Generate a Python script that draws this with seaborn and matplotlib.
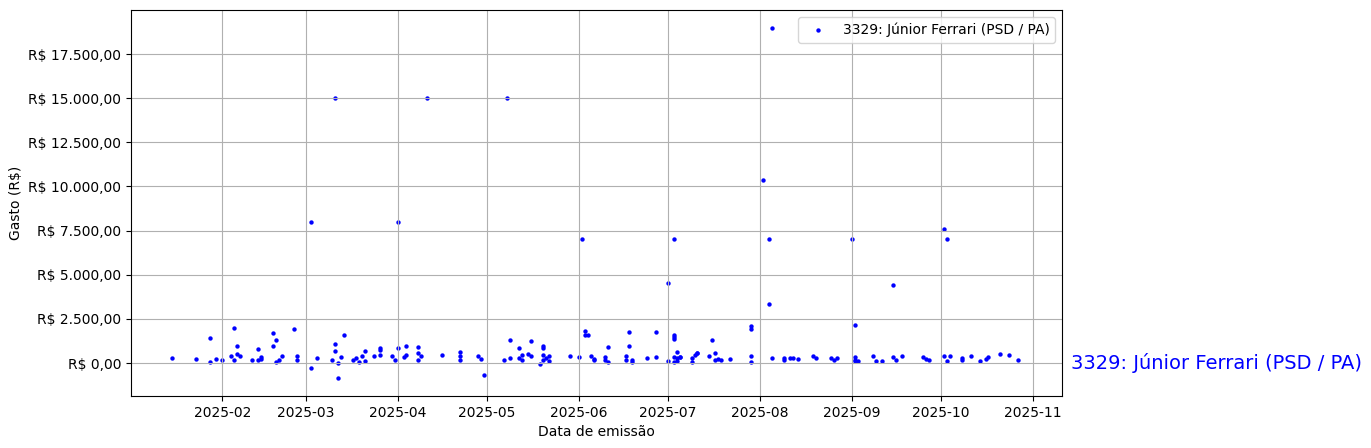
import pandas as pd
import matplotlib.pyplot as plt
import matplotlib.dates as mdates
import matplotlib.transforms as mtransforms
from matplotlib.ticker import FuncFormatter
import seaborn as sns

label = "3329: Júnior Ferrari (PSD / PA)"

# Data (date of issue, amount in R$)
dates = [
    "2025-01-15", "2025-01-23", "2025-01-28", "2025-01-28", "2025-01-30", "2025-02-01",
    "2025-02-05", "2025-02-04", "2025-02-05", "2025-02-06", "2025-02-06", "2025-02-07",
    "2025-02-11", "2025-02-13", "2025-02-13", "2025-02-14", "2025-02-14", "2025-02-18",
    "2025-02-19", "2025-02-18", "2025-02-19", "2025-02-20", "2025-02-21", "2025-02-25",
    "2025-02-26", "2025-02-26", "2025-03-03", "2025-03-03", "2025-03-05", "2025-03-10",
    "2025-03-11", "2025-03-11", "2025-03-11", "2025-03-12", "2025-03-12", "2025-03-13",
    "2025-03-14", "2025-03-17", "2025-03-18", "2025-03-19", "2025-03-20", "2025-03-21",
    "2025-03-21", "2025-03-24", "2025-03-26", "2025-03-26", "2025-03-26", "2025-03-30",
    "2025-03-31", "2025-04-01", "2025-04-01", "2025-04-03", "2025-04-04", "2025-04-04",
    "2025-04-08", "2025-04-08", "2025-04-08", "2025-04-09", "2025-04-11", "2025-04-16",
    "2025-04-22", "2025-04-22", "2025-04-22", "2025-04-28", "2025-04-29", "2025-04-30",
    "2025-05-07", "2025-05-08", "2025-05-09", "2025-05-09", "2025-05-12", "2025-05-12",
    "2025-05-13", "2025-05-13", "2025-05-15", "2025-05-16", "2025-05-16", "2025-05-20",
    "2025-05-20", "2025-05-20", "2025-05-20", "2025-05-19", "2025-05-21", "2025-05-22",
    "2025-05-22", "2025-05-29", "2025-06-01", "2025-06-02", "2025-06-03", "2025-06-03",
    "2025-06-04", "2025-06-05", "2025-06-06", "2025-06-06", "2025-06-10", "2025-06-10",
    "2025-06-11", "2025-06-11", "2025-06-17", "2025-06-17", "2025-06-18", "2025-06-18",
    "2025-06-19", "2025-06-19", "2025-06-24", "2025-06-27", "2025-06-27", "2025-07-01",
    "2025-07-01", "2025-07-03", "2025-07-03", "2025-07-03", "2025-07-03", "2025-07-03",
    "2025-07-03", "2025-07-04", "2025-07-04", "2025-07-04", "2025-07-05", "2025-07-05",
    "2025-07-09", "2025-07-09", "2025-07-10", "2025-07-11", "2025-07-11", "2025-07-15",
    "2025-07-16", "2025-07-17", "2025-07-17", "2025-07-18", "2025-07-19", "2025-07-22",
    "2025-07-29", "2025-07-29", "2025-07-29", "2025-07-29", "2025-08-02", "2025-08-04",
    "2025-08-04", "2025-08-05", "2025-08-05", "2025-08-09", "2025-08-09", "2025-08-11",
    "2025-08-12", "2025-08-14", "2025-08-19", "2025-08-20", "2025-08-25", "2025-08-26",
    "2025-08-27", "2025-09-01", "2025-09-02", "2025-09-02", "2025-09-02", "2025-09-02",
    "2025-09-03", "2025-09-08", "2025-09-09", "2025-09-11", "2025-09-15", "2025-09-15",
    "2025-09-16", "2025-09-18", "2025-09-25", "2025-09-26", "2025-09-27", "2025-10-02",
    "2025-10-03", "2025-10-02", "2025-10-03", "2025-10-04", "2025-10-08", "2025-10-08",
    "2025-10-11", "2025-10-14", "2025-10-16", "2025-10-17", "2025-10-21", "2025-10-24",
    "2025-10-27",
]
values = [
    267, 210, 1400, 40, 210, 150,
    1970, 380, 150, 950, 490, 380,
    150, 780, 150, 210, 320, 1690,
    1290, 950, 40, 150, 380, 1910,
    380, 150, 8000, -300, 267, 150,
    15000, 1060, 660, -20, -870, 320,
    1590, 150, 267, 40, 380, 660,
    100, 380, 830, 720, 440, 380,
    150, 8000, 830, 320, 950, 440,
    890, 550, 150, 380, 15000, 440,
    380, 150, 610, 380, 210, -700,
    150, 15000, 267, 1290, 267, 830,
    150, 440, 490, 380, 1230, 950,
    830, 440, 150, -70, 267, 380,
    100, 380, 320, 7000, 1800, 1570,
    1570, 380, 150, 210, 320, 150,
    890, 40, 380, 150, 1740, 950,
    40, 150, 267, 320, 1740, 100,
    4560, 1570, 1460, 1350, 320, 40,
    7000, 610, 100, 267, 320, 320,
    267, 40, 440, 550, 550, 380,
    1290, 150, 550, 210, 150, 210,
    2090, 1930, 380, 40, 10340, 3330,
    7000, 19000, 267, 267, 150, 267,
    267, 210, 380, 267, 267, 150,
    267, 7000, 2140, 320, 150, 100,
    100, 380, 100, 100, 4430, 320,
    150, 380, 320, 210, 150, 7600,
    7000, 380, 100, 380, 267, 150,
    380, 100, 210, 320, 490, 440,
    150,
]

df = pd.DataFrame({"Data de emissão": pd.to_datetime(dates), "Gasto (R$)": values})


def brl(v, pos):
    s = f"{v:,.2f}".replace(",", "X").replace(".", ",").replace("X", ".")
    return f"R$ {s}"


fig = plt.figure(figsize=(13.71, 4.48), dpi=100)
ax = fig.add_axes([0.0956, 0.1161, 0.6790, 0.8616])
sns.scatterplot(data=df, x="Data de emissão", y="Gasto (R$)", color="blue",
                s=10, linewidth=0, label=label, ax=ax)

ax.set_xlim(pd.Timestamp("2025-01-01 06:00"), pd.Timestamp("2025-11-10 18:00"))
ax.xaxis.set_major_locator(mdates.MonthLocator())
ax.xaxis.set_major_formatter(mdates.DateFormatter("%Y-%m"))
ax.set_yticks([0, 2500, 5000, 7500, 10000, 12500, 15000, 17500])
ax.yaxis.set_major_formatter(FuncFormatter(brl))
ax.set_xlabel("Data de emissão")
ax.set_ylabel("Gasto (R$)")
ax.grid(True)
ax.legend(loc="upper right")

trans = mtransforms.blended_transform_factory(ax.transAxes, ax.transData)
ax.text(1.01, 0, label, color="blue", fontsize=14, va="center", ha="left", transform=trans)

fig.savefig("out.png", dpi=100)
